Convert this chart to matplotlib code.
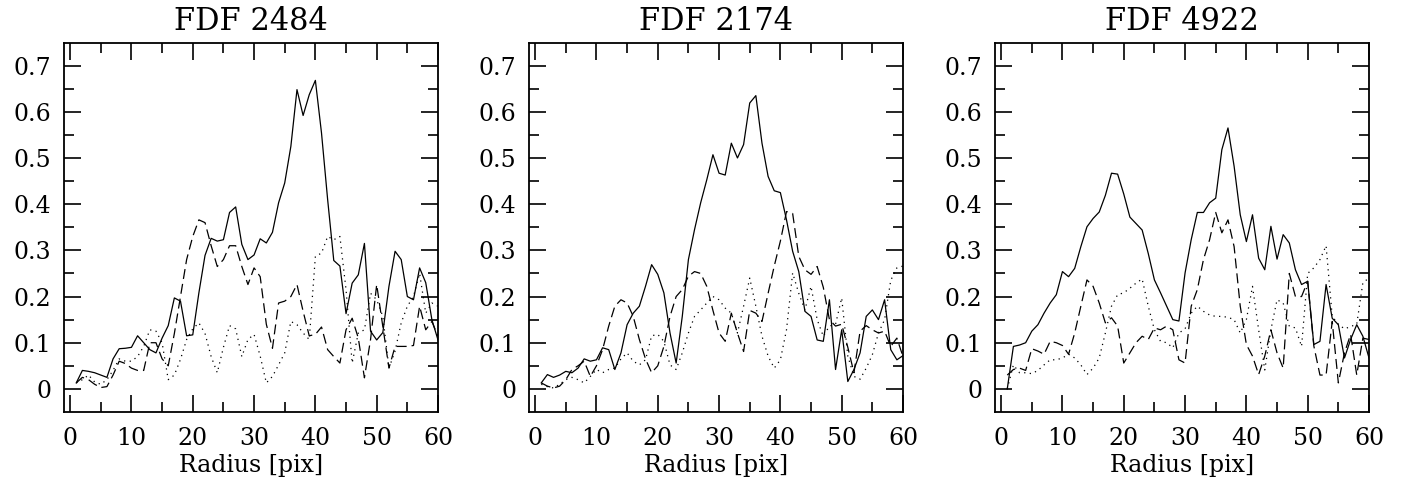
import matplotlib
matplotlib.use('Agg')
import matplotlib.pyplot as plt
import numpy as np

plt.rcParams['font.family'] = ['DejaVu Serif']

# radius grid in pixels
radius = np.arange(1, 61)

titles = ['FDF 2484', 'FDF 2174', 'FDF 4922']

# FDF 2484
solid_2484 = [0.013, 0.04, 0.038, 0.035, 0.03, 0.025, 0.065, 0.087, 0.088, 0.09,
              0.115, 0.1, 0.085, 0.078, 0.11, 0.137, 0.197, 0.19, 0.115, 0.117,
              0.208, 0.289, 0.326, 0.32, 0.323, 0.382, 0.394, 0.313, 0.28, 0.29,
              0.325, 0.316, 0.339, 0.403, 0.446, 0.525, 0.648, 0.592, 0.637, 0.668,
              0.554, 0.41, 0.278, 0.266, 0.163, 0.229, 0.247, 0.315, 0.125, 0.106,
              0.122, 0.222, 0.298, 0.28, 0.2, 0.193, 0.262, 0.23, 0.15, 0.106]
dashed_2484 = [0.013, 0.025, 0.02, 0.01, 0.003, 0.005, 0.03, 0.06, 0.055, 0.045,
               0.04, 0.04, 0.1, 0.1, 0.065, 0.05, 0.12, 0.2, 0.28, 0.33,
               0.366, 0.36, 0.31, 0.265, 0.28, 0.31, 0.31, 0.265, 0.226, 0.262,
               0.243, 0.14, 0.088, 0.186, 0.19, 0.2, 0.226, 0.168, 0.115, 0.118,
               0.134, 0.085, 0.07, 0.056, 0.128, 0.153, 0.11, 0.024, 0.107, 0.226,
               0.135, 0.045, 0.092, 0.092, 0.092, 0.094, 0.179, 0.128, 0.146, 0.114]
dotted_2484 = [0.013, 0.02, 0.03, 0.015, 0.01, 0.02, 0.04, 0.065, 0.06, 0.06,
               0.07, 0.092, 0.128, 0.125, 0.1, 0.02, 0.03, 0.064, 0.107, 0.13,
               0.143, 0.12, 0.07, 0.035, 0.09, 0.137, 0.13, 0.07, 0.107, 0.118,
               0.071, 0.013, 0.027, 0.052, 0.078, 0.146, 0.139, 0.121, 0.107, 0.287,
               0.294, 0.33, 0.323, 0.33, 0.215, 0.056, 0.121, 0.128, 0.207, 0.193,
               0.157, 0.045, 0.082, 0.143, 0.179, 0.2, 0.25, 0.164, 0.186, 0.179]

# FDF 2174
solid_2174 = [0.013, 0.031, 0.025, 0.03, 0.038, 0.035, 0.045, 0.065, 0.06, 0.063,
              0.089, 0.085, 0.042, 0.078, 0.139, 0.164, 0.179, 0.222, 0.269, 0.248,
              0.208, 0.121, 0.056, 0.157, 0.28, 0.345, 0.403, 0.453, 0.507, 0.467,
              0.463, 0.532, 0.5, 0.529, 0.619, 0.635, 0.532, 0.46, 0.429, 0.425,
              0.366, 0.298, 0.254, 0.168, 0.157, 0.106, 0.103, 0.193, 0.042, 0.128,
              0.016, 0.042, 0.078, 0.157, 0.171, 0.15, 0.193, 0.085, 0.063, 0.072]
dashed_2174 = [0.013, 0.006, 0.002, 0.006, 0.02, 0.042, 0.05, 0.06, 0.027, 0.05,
               0.085, 0.136, 0.179, 0.193, 0.186, 0.157, 0.107, 0.065, 0.035, 0.05,
               0.092, 0.157, 0.2, 0.215, 0.244, 0.254, 0.25, 0.222, 0.17, 0.121,
               0.103, 0.164, 0.121, 0.081, 0.17, 0.164, 0.146, 0.207, 0.266, 0.32,
               0.384, 0.38, 0.287, 0.258, 0.248, 0.265, 0.22, 0.15, 0.136, 0.14,
               0.09, 0.035, 0.125, 0.137, 0.128, 0.121, 0.125, 0.092, 0.11, 0.07]
dotted_2174 = [0.01, 0.005, 0.002, 0.01, 0.02, 0.025, 0.02, 0.013, 0.027, 0.042,
               0.035, 0.042, 0.045, 0.065, 0.078, 0.06, 0.052, 0.063, 0.115, 0.118,
               0.103, 0.052, 0.042, 0.078, 0.121, 0.157, 0.171, 0.186, 0.2, 0.193,
               0.175, 0.164, 0.121, 0.179, 0.24, 0.179, 0.114, 0.071, 0.045, 0.063,
               0.128, 0.251, 0.207, 0.171, 0.222, 0.15, 0.114, 0.136, 0.14, 0.197,
               0.071, 0.027, 0.021, 0.045, 0.074, 0.121, 0.15, 0.235, 0.262, 0.266]

# FDF 4922
solid_4922 = [0.0, 0.092, 0.095, 0.1, 0.125, 0.139, 0.164, 0.186, 0.204, 0.254,
              0.243, 0.261, 0.308, 0.351, 0.369, 0.383, 0.419, 0.467, 0.465, 0.422,
              0.372, 0.358, 0.344, 0.293, 0.236, 0.208, 0.179, 0.15, 0.147, 0.251,
              0.323, 0.382, 0.382, 0.403, 0.413, 0.518, 0.565, 0.482, 0.377, 0.319,
              0.377, 0.283, 0.258, 0.352, 0.281, 0.334, 0.316, 0.258, 0.226, 0.233,
              0.096, 0.103, 0.226, 0.153, 0.139, 0.067, 0.107, 0.139, 0.114, 0.067]
dashed_4922 = [0.03, 0.042, 0.045, 0.04, 0.087, 0.082, 0.075, 0.103, 0.1, 0.094,
               0.075, 0.121, 0.179, 0.236, 0.222, 0.186, 0.143, 0.154, 0.136, 0.056,
               0.078, 0.1, 0.114, 0.107, 0.132, 0.128, 0.136, 0.128, 0.063, 0.056,
               0.179, 0.215, 0.28, 0.323, 0.382, 0.338, 0.366, 0.308, 0.179, 0.096,
               0.071, 0.031, 0.071, 0.128, 0.078, 0.045, 0.25, 0.2, 0.2, 0.233,
               0.093, 0.03, 0.03, 0.146, 0.013, 0.078, 0.118, 0.03, 0.11, 0.107]
dotted_4922 = [0.0, 0.052, 0.035, 0.035, 0.033, 0.04, 0.052, 0.063, 0.063, 0.067,
               0.075, 0.067, 0.052, 0.031, 0.045, 0.067, 0.121, 0.179, 0.204, 0.208,
               0.218, 0.229, 0.238, 0.179, 0.128, 0.103, 0.1, 0.089, 0.121, 0.13,
               0.164, 0.179, 0.168, 0.16, 0.157, 0.157, 0.155, 0.15, 0.121, 0.15,
               0.222, 0.128, 0.041, 0.128, 0.193, 0.186, 0.136, 0.132, 0.092, 0.25,
               0.262, 0.28, 0.31, 0.157, 0.14, 0.13, 0.135, 0.14, 0.23, 0.24]

solids = [solid_2484, solid_2174, solid_4922]
dashes = [dashed_2484, dashed_2174, dashed_4922]
dots = [dotted_2484, dotted_2174, dotted_4922]

yticks = [0, 0.1, 0.2, 0.3, 0.4, 0.5, 0.6, 0.7]
ytick_labels = ['0', '0.1', '0.2', '0.3', '0.4', '0.5', '0.6', '0.7']
xticks = [0, 10, 20, 30, 40, 50, 60]

fig = plt.figure(figsize=(14.03, 4.92), dpi=100)
lefts = [64 / 1403, 529 / 1403, 995 / 1403]
width = 374 / 1403
bottom = 80 / 492
height = 369.5 / 492

for i in range(3):
    ax = fig.add_axes([lefts[i], bottom, width, height])
    ax.plot(radius, solids[i], color='k', lw=0.9)
    ax.plot(radius, dashes[i], color='k', lw=0.9, dashes=(8, 4))
    ax.plot(radius, dots[i], color='k', lw=0.9, dashes=(1, 3.5))

    ax.set_xlim(-1, 60)
    ax.set_ylim(-0.05, 0.75)
    ax.set_xticks(xticks)
    ax.set_xticks(np.arange(5, 60, 10), minor=True)
    ax.set_yticks(yticks)
    ax.set_yticklabels(ytick_labels)
    ax.set_yticks(np.arange(0.05, 0.75, 0.1), minor=True)
    ax.tick_params(which='both', direction='in', top=True, right=True, width=1.2, labelsize=17)
    ax.tick_params(which='major', length=12)
    ax.tick_params(which='minor', length=7)
    ax.tick_params(axis='y', which='major', pad=9)
    ax.tick_params(axis='x', which='major', pad=11)
    for sp in ax.spines.values():
        sp.set_linewidth(1.3)

    ax.set_xlabel('Radius [pix]', fontsize=17, labelpad=3)
    ax.set_title(titles[i], fontsize=22, pad=9)

fig.savefig('out.png', dpi=100)
